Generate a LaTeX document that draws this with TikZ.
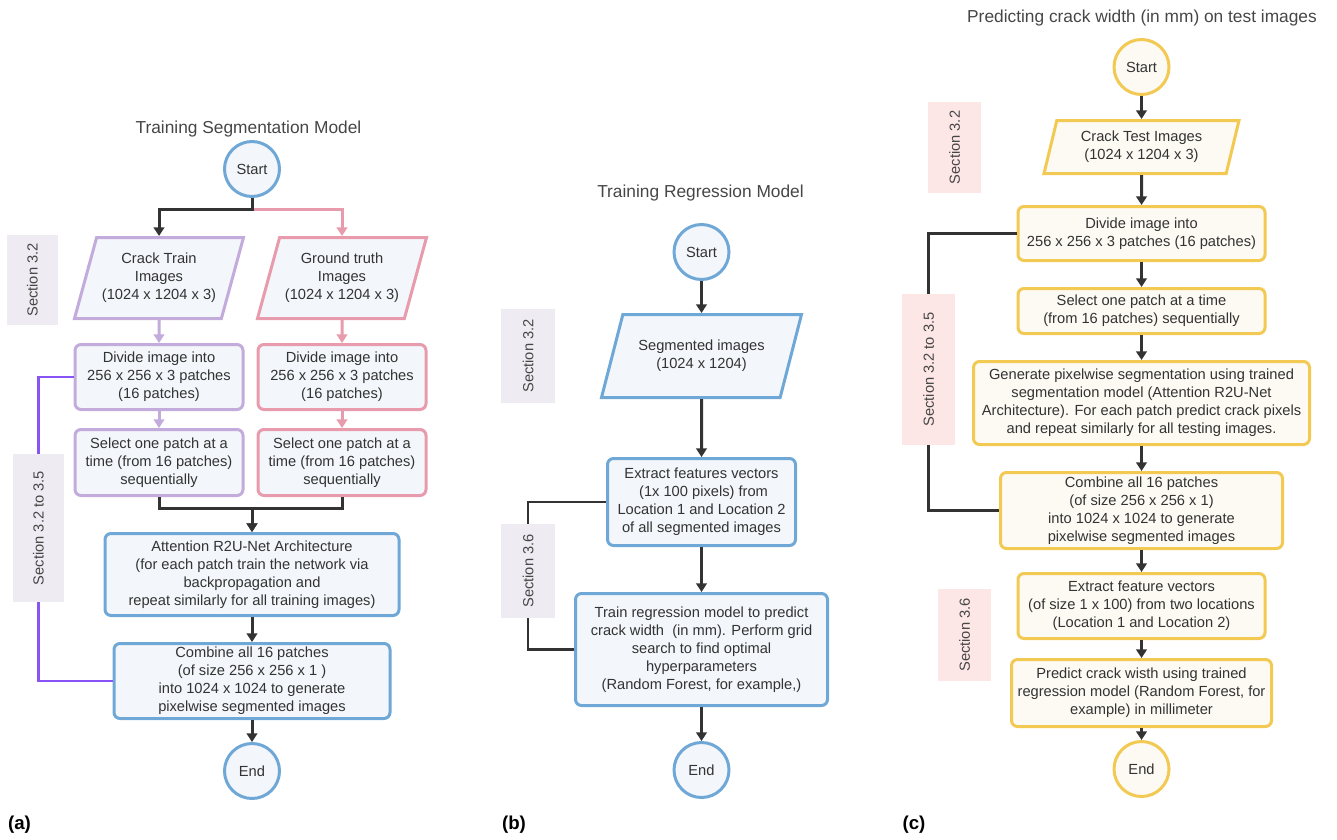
\documentclass[tikz,border=0pt]{standalone}
\usepackage{fontspec}
\setmainfont{Liberation Sans}
\usepackage{tikz}
\usetikzlibrary{shapes, arrows.meta, positioning}
\definecolor{boxblue}{RGB}{111,168,214}
\definecolor{fillblue}{RGB}{243,246,250}
\definecolor{boxlav}{RGB}{195,171,219}
\definecolor{boxpink}{RGB}{232,155,172}
\definecolor{boxyellow}{RGB}{242,201,82}
\definecolor{fillcream}{RGB}{253,250,243}
\definecolor{seclav}{RGB}{239,235,242}
\definecolor{secpink}{RGB}{253,230,230}
\definecolor{arrowgray}{RGB}{51,51,51}
\definecolor{textgray}{RGB}{51,51,51}
\definecolor{titlegray}{RGB}{70,70,70}
\definecolor{linepurple}{RGB}{136,84,245}
\newcommand{\boxfont}{\fontsize{11}{13.5}\selectfont}
\tikzstyle{process} = [rectangle, rounded corners=4.5pt, line width=2.25pt, align=center, inner sep=0pt, text=textgray, font=\boxfont]
\tikzstyle{io} = [trapezium, trapezium left angle=66, trapezium right angle=114, trapezium stretches body, line width=2.25pt, align=center, inner sep=0pt, text=textgray, font=\boxfont]
\tikzstyle{terminal} = [circle, minimum size=41.25pt, line width=2.25pt, inner sep=0pt, text=textgray, font=\boxfont]
\tikzstyle{section} = [rectangle, inner sep=0pt, text=titlegray, font=\boxfont]
\tikzstyle{title} = [text=titlegray, font=\fontsize{13}{15}\selectfont]
\tikzstyle{panel} = [font=\fontsize{14}{16}\selectfont\bfseries]
\tikzstyle{arrow} = [line width=2.25pt, draw=arrowgray, -{Triangle[width=8pt,length=6.5pt]}]
\tikzstyle{secline} = [line width=1.6pt]

\begin{document}
\begin{tikzpicture}[x=0.75pt, y=-0.75pt]
\useasboundingbox (0,0) rectangle (1337,839);

% (a) segmentation model
\node (titleA) [title] at (248.5,129) {Training Segmentation Model};
\node (startA) [terminal, draw=boxblue, fill=fillblue] at (252,169) {Start};
\node (crackA) [io, draw=boxlav, fill=fillblue, minimum width=126.75pt, minimum height=60.75pt] at (159,278) {Crack Train\\Images\\(1024 x 1204 x 3)};
\node (truthA) [io, draw=boxpink, fill=fillblue, minimum width=126.75pt, minimum height=60.75pt] at (342,278) {Ground truth\\Images\\(1024 x 1204 x 3)};
\node (divA1) [process, draw=boxlav, fill=fillblue, minimum width=126pt, minimum height=48.75pt] at (159,377) {Divide image into\\256 x 256 x 3 patches\\(16 patches)};
\node (divA2) [process, draw=boxpink, fill=fillblue, minimum width=126pt, minimum height=48.75pt] at (342,377) {Divide image into\\256 x 256 x 3 patches\\(16 patches)};
\node (selA1) [process, draw=boxlav, fill=fillblue, minimum width=126pt, minimum height=49.5pt] at (159,462.5) {Select one patch at a\\time (from 16 patches)\\sequentially};
\node (selA2) [process, draw=boxpink, fill=fillblue, minimum width=126pt, minimum height=49.5pt] at (342,462.5) {Select one patch at a\\time (from 16 patches)\\sequentially};
\node (attA) [process, draw=boxblue, fill=fillblue, minimum width=220.5pt, minimum height=61.5pt] at (252,574.5) {Attention R2U-Net Architecture\\(for each patch train the network via\\backpropagation and\\repeat similarly for all training images)};
\node (combA) [process, draw=boxblue, fill=fillblue, minimum width=207pt, minimum height=56.25pt] at (252,681) {Combine all 16 patches\\(of size 256 x 256 x 1 )\\into 1024 x 1024 to generate\\pixelwise segmented images};
\node (endA) [terminal, draw=boxblue, fill=fillblue] at (252,771) {End};
\node (secA1) [section, fill=seclav, minimum width=38.25pt, minimum height=67.5pt] at (32.5,280) {\rotatebox{90}{Section 3.2}};
\node (secA2) [section, fill=seclav, minimum width=38.25pt, minimum height=111pt] at (38.5,528) {\rotatebox{90}{Section 3.2 to 3.5}};
\node (panelA) [panel] at (19.5,825) {(a)};

\draw[arrow, draw=boxpink] (startA.south) -- ++(0,11) -| (truthA.north);
\draw[arrow] (startA.south) -- ++(0,11) -| (crackA.north);
\draw[arrow, draw=boxlav] (crackA) -- (divA1);
\draw[arrow, draw=boxlav] (divA1) -- (selA1);
\draw[arrow, draw=boxpink] (truthA) -- (divA2);
\draw[arrow, draw=boxpink] (divA2) -- (selA2);
\draw[arrow] (selA1.south) -- ++(0,11) -| (attA.north);
\draw[arrow] (selA2.south) -- ++(0,11) -| (attA.north);
\draw[arrow] (attA) -- (combA);
\draw[arrow] (combA) -- (endA);
\draw[secline, linepurple] (divA1.west) -| (secA2.north);
\draw[secline, linepurple] (secA2.south) |- (combA.west);

% (b) regression model
\node (titleB) [title] at (700.5,193) {Training Regression Model};
\node (startB) [terminal, draw=boxblue, fill=fillblue] at (701.5,252) {Start};
\node (segB) [io, trapezium left angle=56, trapezium right angle=124, draw=boxblue, fill=fillblue, minimum width=150pt, minimum height=62.25pt] at (701.5,356) {Segmented images\\(1024 x 1204)};
\node (extB) [process, draw=boxblue, fill=fillblue, minimum width=141pt, minimum height=65.25pt] at (701.5,502) {Extract features vectors\\\ (1x 100 pixels) from\\Location 1 and Location 2\\of all segmented images};
\node (trainB) [process, draw=boxblue, fill=fillblue, minimum width=189pt, minimum height=84pt] at (701.5,649.5) {Train regression model to predict\\crack width~ (in mm). Perform grid\\search to find optimal\\hyperparameters\\(Random Forest, for example,)};
\node (endB) [terminal, draw=boxblue, fill=fillblue] at (701.5,770) {End};
\node (secB1) [section, fill=seclav, minimum width=40.5pt, minimum height=70.5pt] at (528,356) {\rotatebox{90}{Section 3.2}};
\node (secB2) [section, fill=seclav, minimum width=40.5pt, minimum height=70.5pt] at (528,571) {\rotatebox{90}{Section 3.6}};
\node (panelB) [panel] at (514,825) {(b)};

\draw[arrow] (startB) -- (segB);
\draw[arrow] (segB) -- (extB);
\draw[arrow] (extB) -- (trainB);
\draw[arrow] (trainB) -- (endB);
\draw[secline, arrowgray] (extB.west) -| (secB2.north);
\draw[secline, arrowgray] (secB2.south) |- (trainB.west);

% (c) prediction on test images
\node (titleC) [title] at (1142,18) {Predicting crack width (in mm) on test images};
\node (startC) [terminal, draw=boxyellow, fill=fillcream] at (1141.5,67) {Start};
\node (testC) [io, trapezium left angle=68, trapezium right angle=112, draw=boxyellow, fill=fillcream, minimum width=146.25pt, minimum height=39.75pt] at (1141.5,147) {Crack Test Images\\(1024 x 1204 x 3)};
\node (divC) [process, draw=boxyellow, fill=fillcream, minimum width=185.25pt, minimum height=40.5pt] at (1141.5,233.5) {Divide image into\\256 x 256 x 3 patches (16 patches)};
\node (selC) [process, draw=boxyellow, fill=fillcream, minimum width=185.25pt, minimum height=33.75pt] at (1141.5,311) {Select one patch at a time\\(from 16 patches) sequentially};
\node (genC) [process, draw=boxyellow, fill=fillcream, minimum width=252pt, minimum height=62.25pt] at (1141.5,403) {Generate pixelwise segmentation using trained\\segmentation model (Attention R2U-Net\\Architecture). For each patch predict crack pixels\\and repeat similarly for all testing images.};
\node (combC) [process, draw=boxyellow, fill=fillcream, minimum width=211.5pt, minimum height=57pt] at (1141.5,510.5) {Combine all 16 patches\\(of size 256 x 256 x 1)\\into 1024 x 1024 to generate\\pixelwise segmented images};
\node (extC) [process, draw=boxyellow, fill=fillcream, minimum width=185.25pt, minimum height=48.75pt] at (1141.5,606) {Extract feature vectors\\(of size 1 x 100) from two locations\\(Location 1 and Location 2)};
\node (predC) [process, draw=boxyellow, fill=fillcream, minimum width=195pt, minimum height=50.25pt] at (1141.5,693) {Predict crack wisth using trained\\regression model (Random Forest, for\\example) in millimeter};
\node (endC) [terminal, draw=boxyellow, fill=fillcream] at (1141.5,769) {End};
\node (secC1) [section, fill=secpink, minimum width=39.75pt, minimum height=68.25pt] at (954.5,147.5) {\rotatebox{90}{Section 3.2}};
\node (secC2) [section, fill=secpink, minimum width=39.75pt, minimum height=113.25pt] at (928.5,369.5) {\rotatebox{90}{Section 3.2 to 3.5}};
\node (secC3) [section, fill=secpink, minimum width=39.75pt, minimum height=69pt] at (964.5,635) {\rotatebox{90}{Section 3.6}};
\node (panelC) [panel] at (914,825) {(c)};

\draw[arrow] (startC) -- (testC);
\draw[arrow] (testC) -- (divC);
\draw[arrow] (divC) -- (selC);
\draw[arrow] (selC) -- (genC);
\draw[arrow] (genC) -- (combC);
\draw[arrow] (combC) -- (extC);
\draw[arrow] (extC) -- (predC);
\draw[arrow] (predC) -- (endC);
\draw[secline, arrowgray] (divC.west) -| (secC2.north);
\draw[secline, arrowgray] (secC2.south) |- (combC.west);
\end{tikzpicture}
\end{document}
